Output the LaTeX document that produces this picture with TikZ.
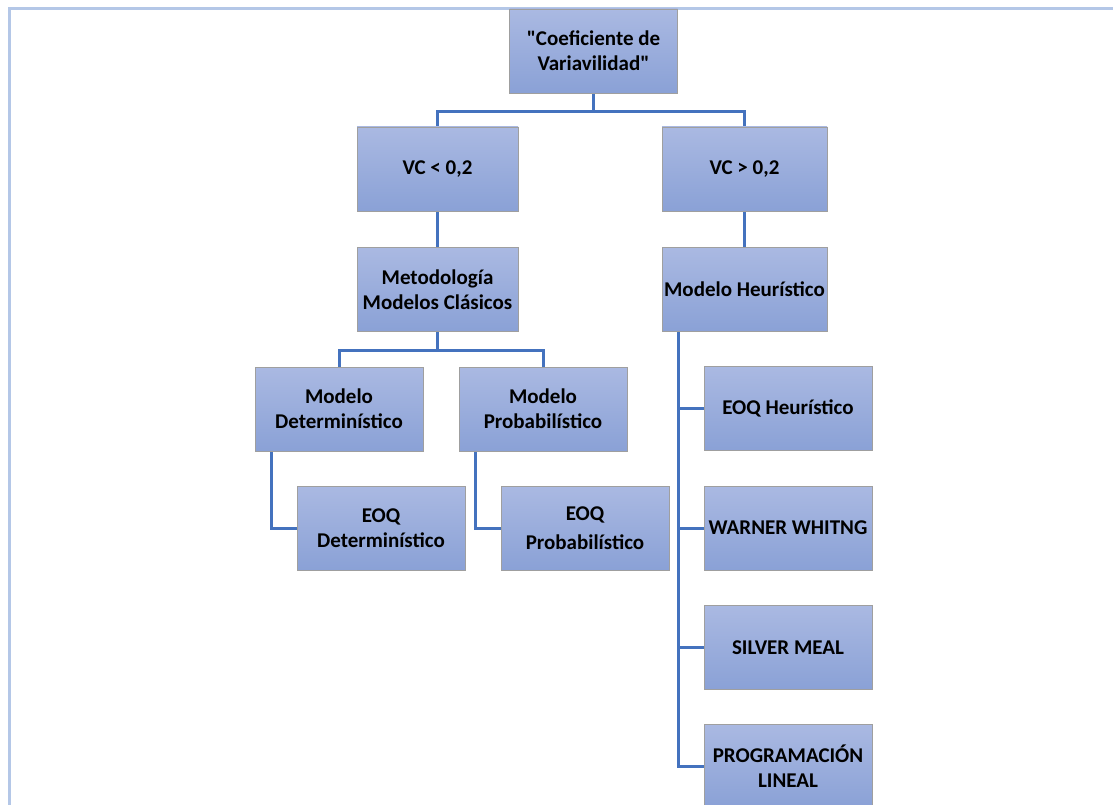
\documentclass[tikz,border=0pt]{standalone}
\usepackage{fontspec}
\setmainfont{Carlito}[Ligatures=TeXOff]
\usetikzlibrary{backgrounds}
\definecolor{cajaarriba}{RGB}{170,185,226}
\definecolor{cajaabajo}{RGB}{138,161,214}
\definecolor{azulenlace}{RGB}{68,114,190}
\definecolor{marco}{RGB}{180,199,231}
\begin{document}
\begin{tikzpicture}[x=1pt,y=-1pt,
	caja/.style={draw=gray!75, line width=0.8pt, top color=cajaarriba, bottom color=cajaabajo,
		minimum width=168pt, minimum height=84pt, align=center, inner sep=2pt,
		font=\fontsize{21}{25}\selectfont\bfseries},
	enlace/.style={draw=azulenlace, line width=3pt}]
	\useasboundingbox (0,0) rectangle (1113,805);
	\draw[marco, line width=3pt] (1113,9) -- (9,9) -- (9,805);
	% tree
	\node[caja] (coef) at (593.5,51) {"Coeficiente de\\Variavilidad"};
	\node[caja, minimum width=161pt] (vcmenor) at (437.5,169) {VC < 0,2};
	\node[caja, minimum width=165pt] (vcmayor) at (744.5,169) {VC > 0,2};
	\node[caja, minimum width=161pt] (clasicos) at (437.5,289.5) {Metodología\\Modelos Clásicos};
	\node[caja, minimum width=165pt] (heuristico) at (744.5,289.5) {Modelo Heurístico};
	\node[caja] (determ) at (339,409) {Modelo\\Determinístico};
	\node[caja] (probab) at (543,409) {Modelo\\Probabilístico};
	\node[caja] (eoqdet) at (381,528) {EOQ\\Determinístico};
	\node[caja] (eoqprob) at (585,528) {EOQ\\[4pt]Probabilístico};
	\node[caja] (eoqheur) at (788,408.5) {EOQ Heurístico};
	\node[caja] (warner) at (788,528) {WARNER WHITNG};
	\node[caja] (silver) at (788,647.5) {SILVER MEAL};
	\node[caja] (lineal) at (788,766) {PROGRAMACIÓN\\LINEAL};
	% connectors
	\begin{scope}[on background layer]
		\draw[enlace] (coef.south) -- ++(0,18) -| (vcmenor.north);
		\draw[enlace] (coef.south) -- ++(0,18) -| (vcmayor.north);
		\draw[enlace] (vcmenor.south) -- (clasicos.north);
		\draw[enlace] (vcmayor.south) -- (heuristico.north);
		\draw[enlace] (clasicos.south) -- ++(0,19) -| (determ.north);
		\draw[enlace] (clasicos.south) -- ++(0,19) -| (probab.north);
		\draw[enlace] ([xshift=17pt]determ.south west) |- (eoqdet.west);
		\draw[enlace] ([xshift=17pt]probab.south west) |- (eoqprob.west);
		\foreach \n in {eoqheur,warner,silver,lineal}
			\draw[enlace] ([xshift=17pt]heuristico.south west) |- (\n.west);
	\end{scope}
\end{tikzpicture}
\end{document}
